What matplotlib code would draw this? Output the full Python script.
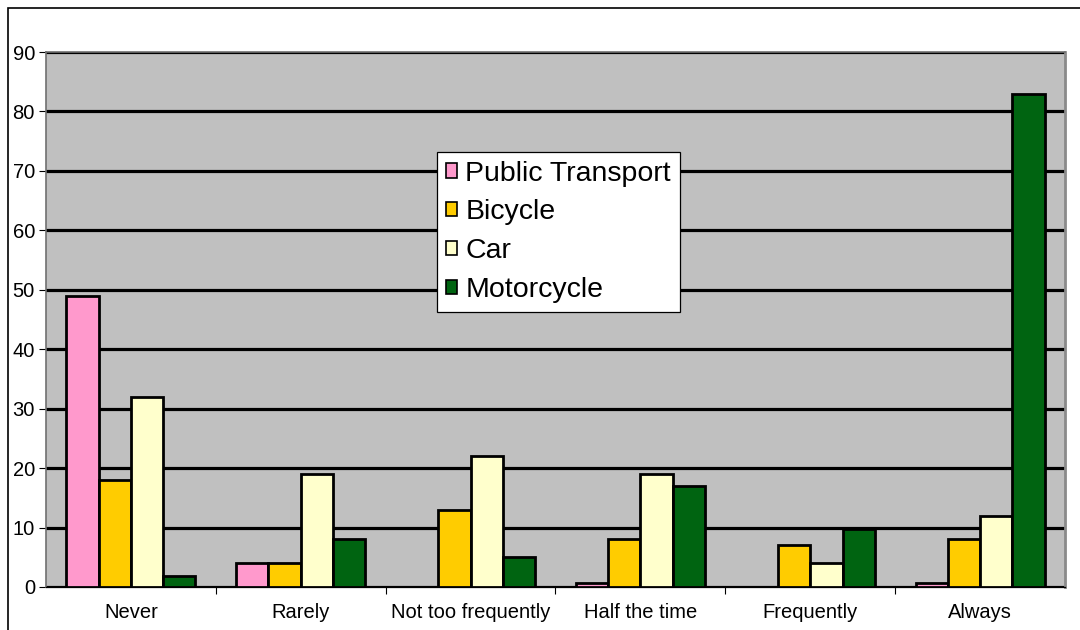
import matplotlib
matplotlib.use("Agg")
import matplotlib.pyplot as plt
import numpy as np
from matplotlib.patches import Rectangle

categories = ["Never", "Rarely", "Not too frequently", "Half the time", "Frequently", "Always"]
public_transport = [49, 4, 0, 0.7, 0, 0.7]
bicycle = [18, 4, 13, 8, 7, 8]
car = [32, 19, 22, 19, 4, 12]
motorcycle = [1.8, 8, 5, 17, 9.7, 83]
series_names = ["Public Transport", "Bicycle", "Car", "Motorcycle"]
series_colors = ["#FF99CC", "#FFCC00", "#FFFFCC", "#006411"]
y_ticks = list(range(0, 91, 10))

plt.rcParams["font.family"] = ["Liberation Sans", "DejaVu Sans"]

fig = plt.figure(figsize=(10.8, 6.3), dpi=100)
fig.patch.set_facecolor("white")

# outer chart frame
fig.patches.append(Rectangle((8 / 1080, -0.1), 1.2, (630 - 8) / 630 + 0.1,
                             transform=fig.transFigure, fill=False,
                             edgecolor="black", linewidth=1.2, zorder=0))

ax = fig.add_axes([46 / 1080, 43 / 630, 1019 / 1080, 535 / 630])
ax.set_facecolor("#C0C0C0")

n = len(categories)
x = np.arange(n)
width = 0.19
all_series = [public_transport, bicycle, car, motorcycle]
for i, (vals, name, color) in enumerate(zip(all_series, series_names, series_colors)):
    offs = (i - 1.5) * width
    heights = [v if v > 0 else np.nan for v in vals]
    ax.bar(x + offs, heights, width=width, color=color, edgecolor="black",
           linewidth=2.0, label=name, zorder=3)

ax.set_xlim(-0.5, n - 0.5)
ax.set_ylim(0, 90)
ax.set_yticks(y_ticks)
ax.set_yticklabels([str(t) for t in y_ticks], fontsize=14.5)
ax.yaxis.grid(True, color="black", linewidth=2.3, zorder=1)
ax.set_axisbelow(True)

ax.set_xticks(x)
ax.set_xticklabels(categories, fontsize=14.5)
ax.tick_params(axis="x", length=0, pad=11.5)
ax.set_xticks(np.arange(0.5, n - 0.5), minor=True)
ax.tick_params(axis="x", which="minor", length=5, width=0.8, direction="out")
ax.tick_params(axis="y", length=5, width=0.8, direction="out", pad=3)

for side in ["top", "left"]:
    ax.spines[side].set_color("#707070")
    ax.spines[side].set_linewidth(1.2)
ax.spines["right"].set_color("#8A8A8A")
ax.spines["right"].set_linewidth(2.0)
ax.spines["bottom"].set_color("black")
ax.spines["bottom"].set_linewidth(0.9)

leg = ax.legend(loc="upper left", bbox_to_anchor=(437 / 1080, 1 - 152 / 630),
                bbox_transform=fig.transFigure, fontsize=20.5, frameon=True,
                fancybox=False, edgecolor="black", framealpha=1,
                handlelength=0.4, handleheight=0.4, handletextpad=0.3,
                labelspacing=0.45, borderpad=0.3, borderaxespad=0)
leg.get_frame().set_linewidth(0.9)
for h in leg.legend_handles:
    h.set_linewidth(1.2)

fig.savefig("out.png", dpi=100, facecolor="white")
